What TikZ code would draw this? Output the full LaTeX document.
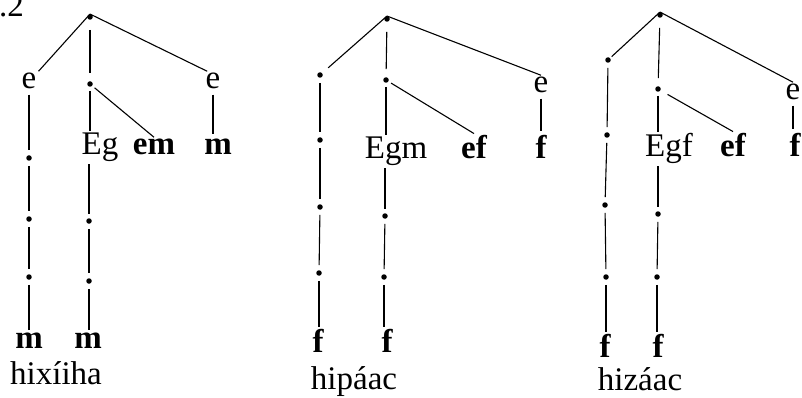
\documentclass[tikz,border=0pt]{standalone}
\usepackage{fontspec}
\setmainfont{Liberation Serif}
\begin{document}
\begin{tikzpicture}[x=1pt,y=-1pt,
  tdot/.style={circle,fill,inner sep=0pt,minimum size=5.5pt},
  lbl/.style={inner sep=2pt,anchor=base,font=\fontsize{33}{33}\selectfont},
  blbl/.style={inner sep=2pt,anchor=base,font=\fontsize{33}{33}\selectfont\bfseries},
  link/.style={line width=1.1pt},
  vlink/.style={link,shorten <=5pt,shorten >=5pt},
  rootlink/.style={link,shorten <=10pt,shorten >=8pt}]
\useasboundingbox (0,0) rectangle (802,398);

\node[lbl,anchor=base west] (tag) at (-3,17) {.2};

% ---------- tree 1 ----------
\node[tdot] (r1) at (90,17) {};
\node[lbl] (a1) at (29,89) {e};
\node[tdot] (d11) at (29,158) {};
\node[tdot] (d12) at (29,219) {};
\node[tdot] (d13) at (29,277) {};
\node[blbl] (m1) at (29,348) {m};
\node[tdot] (d14) at (90,84) {};
\node[lbl] (Eg) at (100,155) {Eg};
\node[blbl] (em) at (154,155) {em};
\node[tdot] (d15) at (89,221) {};
\node[tdot] (d16) at (89,281) {};
\node[blbl] (m2) at (88,348) {m};
\node[lbl] (a2) at (213,89) {e};
\node[blbl] (m3) at (218,155) {m};
\node[lbl] (w1) at (56,384) {hixíiha};

\draw[link] (r1.north) -- (a1.north east);
\draw[link] (r1.north) -- (a2.120);
\draw[rootlink] (r1) -- (d14);
\draw[link,shorten <=3pt] (d14) -- (em.north);
\draw[link,shorten <=4pt] (d14) -- (d14 |- Eg.north);
\draw[link,shorten >=4pt] (Eg.south -| d15) -- (d15);
\draw[vlink] (d15) -- (d16);
\draw[link,shorten <=5pt] (d16) -- (d16 |- m2.north);
\draw[link,shorten <=3pt,shorten >=5pt] (a1) -- (d11);
\draw[vlink] (d11) -- (d12);
\draw[vlink] (d12) -- (d13);
\draw[link,shorten <=5pt] (d13) -- (d13 |- m1.north);
\draw[link,shorten <=3pt,shorten >=3pt] (a2.south) -- (a2.south |- m3.north);

% ---------- tree 2 ----------
\node[tdot] (r2) at (387,19) {};
\node[tdot] (b1) at (320,75) {};
\node[tdot] (d21) at (320,140) {};
\node[tdot] (d22) at (320,207) {};
\node[tdot] (d23) at (319,273) {};
\node[blbl] (f1) at (318,352) {f};
\node[tdot] (d24) at (386,80) {};
\node[lbl] (Egm) at (396,159) {Egm};
\node[blbl] (ef2) at (474,159) {ef};
\node[tdot] (d25) at (385,216) {};
\node[tdot] (d26) at (384,277) {};
\node[blbl] (f2) at (387,352) {f};
\node[lbl] (a3) at (541,93) {e};
\node[blbl] (f3) at (541,159) {f};
\node[lbl] (w2) at (354,389) {hipáac};

\draw[link,shorten >=8pt] (r2.north) -- (b1);
\draw[link] (r2.north) -- (a3.north);
\draw[rootlink] (r2) -- (d24);
\draw[link,shorten <=3pt] (d24) -- (ef2.north);
\draw[link,shorten <=4pt] (d24) -- (d24 |- Egm.north);
\draw[link,shorten >=4pt] (Egm.south -| d25) -- (d25);
\draw[vlink] (d25) -- (d26);
\draw[link,shorten <=5pt] (d26) -- (d26 |- f2.north);
\draw[vlink] (b1) -- (d21);
\draw[vlink] (d21) -- (d22);
\draw[vlink] (d22) -- (d23);
\draw[link,shorten <=5pt] (d23) -- (d23 |- f1.north);
\draw[link,shorten <=3pt,shorten >=3pt] (a3) -- (f3);

% ---------- tree 3 ----------
\node[tdot] (r3) at (660,15) {};
\node[tdot] (c1) at (608,60) {};
\node[tdot] (d31) at (607,135) {};
\node[tdot] (d32) at (605,205) {};
\node[tdot] (d33) at (606,277) {};
\node[blbl] (f4) at (605,357) {f};
\node[tdot] (d34) at (658,89) {};
\node[lbl] (Egf) at (669,157) {Egf};
\node[blbl] (ef3) at (733,157) {ef};
\node[tdot] (d35) at (658,214) {};
\node[tdot] (d36) at (657,277) {};
\node[blbl] (f5) at (658,357) {f};
\node[lbl] (a4) at (793,100) {e};
\node[blbl] (f6) at (795,157) {f};
\node[lbl] (w3) at (640,390) {hizáac};

\draw[link,shorten >=2pt] (r3.north) -- (c1);
\draw[link] (r3.north) -- (a4.north);
\draw[rootlink] (r3) -- (d34);
\draw[link,shorten <=8pt] (d34) -- (ef3.north);
\draw[link,shorten <=4pt] (d34) -- (d34 |- Egf.north);
\draw[link,shorten >=4pt] (Egf.south -| d35) -- (d35);
\draw[vlink] (d35) -- (d36);
\draw[link,shorten <=5pt] (d36) -- (d36 |- f5.north);
\draw[vlink] (c1) -- (d31);
\draw[vlink] (d31) -- (d32);
\draw[vlink] (d32) -- (d33);
\draw[link,shorten <=5pt] (d33) -- (d33 |- f4.north);
\draw[link,shorten <=3pt,shorten >=3pt] (a4.south) -- (a4.south |- f6.north);
\end{tikzpicture}
\end{document}
